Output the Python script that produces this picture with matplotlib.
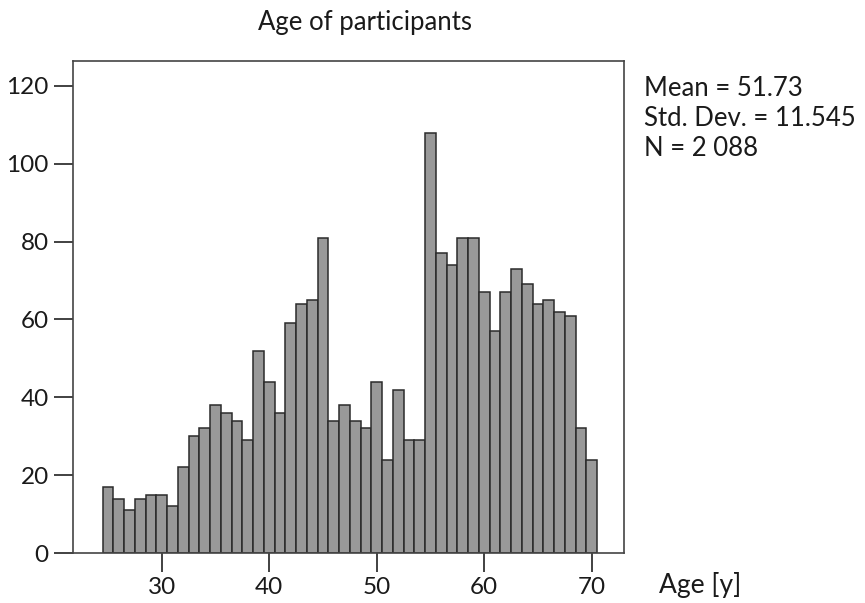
import matplotlib
matplotlib.use("Agg")
import matplotlib.pyplot as plt
import numpy as np

plt.rcParams['font.family'] = ['Lato', 'DejaVu Sans']

# age (years) and number of participants at each age
ages = list(range(25, 71))
counts = [17, 14, 11, 14, 15, 15, 12, 22, 30, 32, 38, 36, 34, 29, 52, 44,
          36, 59, 64, 65, 81, 34, 38, 34, 32, 44, 24, 42, 29, 29, 108, 77,
          74, 81, 81, 67, 57, 67, 73, 69, 64, 65, 62, 61, 32, 24]

x_ticks = [30, 40, 50, 60, 70]
y_ticks = [0, 20, 40, 60, 80, 100, 120]
stats_text = "Mean = 51.73\nStd. Dev. = 11.545\nN = 2 088"

fig = plt.figure(figsize=(8.65, 6.03), dpi=100)
ax = fig.add_axes([0.0844, 0.0829, 0.6370, 0.8159])

ax.bar(ages, counts, width=1.0, color='#999999', edgecolor='#2b2b2b', linewidth=1.1)

ax.set_xlim(21.75, 73.0)
ax.set_ylim(0, 126.4)
ax.set_xticks(x_ticks)
ax.set_yticks(y_ticks)
ax.tick_params(axis='both', direction='out', length=13.5, width=1.3,
               color='#333333', labelsize=17.5, labelcolor='#1a1a1a', pad=4)
for s in ax.spines.values():
    s.set_color('#444444')
    s.set_linewidth(1.2)

fig.text(0.422, 0.963, "Age of participants", ha='center', va='center',
         fontsize=18.5, color='#1a1a1a')
fig.text(0.745, 0.874, stats_text, ha='left', va='top', fontsize=18.5,
         color='#1a1a1a', linespacing=1.25)
fig.text(0.762, 0.030, "Age [y]", ha='left', va='center', fontsize=19,
         color='#1a1a1a')

fig.savefig("out.png", dpi=100)
